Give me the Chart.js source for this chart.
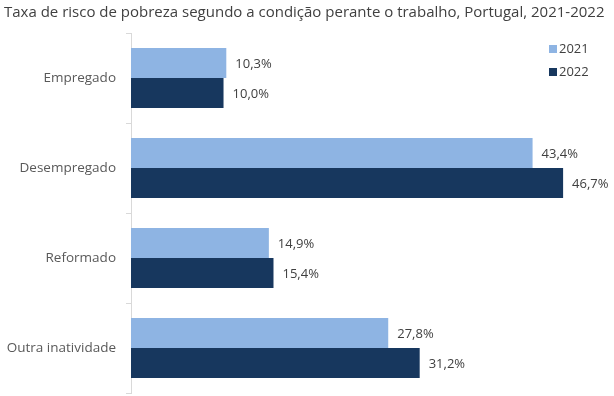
<!DOCTYPE html>
<html><head><meta charset="utf-8">
<script src="https://cdn.jsdelivr.net/npm/chart.js@4/dist/chart.umd.min.js"></script>
<style>html,body{margin:0;padding:0;background:#fff}#wrap{width:614px;height:396px}</style>
</head><body><div id="wrap"><canvas id="c" width="614" height="396"></canvas></div>
<script>
const titleText = "Taxa de risco de pobreza segundo a condição perante o trabalho, Portugal, 2021-2022";
const categories = ["Empregado", "Desempregado", "Reformado", "Outra inatividade"];
const seriesNames = ["2021", "2022"];
const values2021 = [10.3, 43.4, 14.9, 27.8];
const values2022 = [10.0, 46.7, 15.4, 31.2];
const colors = ["#8EB4E3", "#17375E"];

const FONT = "'Open Sans', 'Liberation Sans', sans-serif";
const fmt = v => v.toFixed(1).replace('.', ',') + '%';

const extras = {
  id: 'extras',
  afterDraw(chart) {
    const ctx = chart.ctx;
    ctx.save();
    // title
    ctx.fillStyle = '#404040';
    ctx.font = "15px " + FONT;
    ctx.textAlign = 'left'; ctx.textBaseline = 'middle';
    ctx.fillText(titleText, 4, 13);
    // data labels
    ctx.font = "13px " + FONT;
    ctx.fillStyle = '#404040';
    chart.data.datasets.forEach((ds, di) => {
      const meta = chart.getDatasetMeta(di);
      meta.data.forEach((bar, i) => {
        ctx.textAlign = 'left'; ctx.textBaseline = 'middle';
        ctx.fillText(fmt(ds.data[i]), bar.x + 9, bar.y + 1);
      });
    });
    // legend
    ctx.font = "13px " + FONT;
    chart.data.datasets.forEach((ds, di) => {
      const y = 49 + di * 23;
      ctx.fillStyle = ds.backgroundColor;
      ctx.fillRect(549, y - 4, 8, 8);
      ctx.fillStyle = '#404040';
      ctx.textAlign = 'left'; ctx.textBaseline = 'middle';
      ctx.fillText(ds.label, 559, y);
    });
    ctx.restore();
  }
};

new Chart(document.getElementById('c'), {
  type: 'bar',
  data: {
    labels: categories,
    datasets: [
      { label: seriesNames[0], data: values2021, backgroundColor: colors[0], borderWidth: 0 },
      { label: seriesNames[1], data: values2022, backgroundColor: colors[1], borderWidth: 0 }
    ]
  },
  options: {
    indexAxis: 'y',
    responsive: false,
    animation: false,
    layout: { padding: { top: 33, bottom: 3, left: 0, right: 0 } },
    plugins: { legend: { display: false }, tooltip: { enabled: false }, title: { display: false } },
    datasets: { bar: { categoryPercentage: 0.667, barPercentage: 1.0 } },
    scales: {
      x: { display: false, min: 0, max: 52.2 },
      y: {
        offset: true,
        grid: { offset: true, drawOnChartArea: false, tickLength: 5, color: '#D9D9D9', lineWidth: 1 },
        border: { display: true, color: '#D9D9D9', width: 1 },
        ticks: { color: '#595959', font: { size: 13.5, family: FONT }, padding: 10 },
        afterFit(scale) { scale.width = 131; scale.paddingTop = 0; scale.paddingBottom = 0; }
      }
    }
  },
  plugins: [extras]
});
</script></body></html>
